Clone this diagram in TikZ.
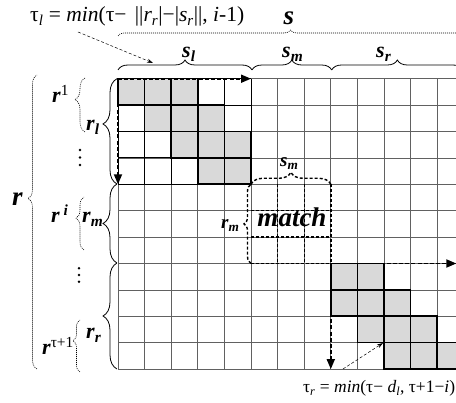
\documentclass[tikz,border=0pt]{standalone}
\usepackage{fontspec}
\setmainfont{Liberation Serif}
\usetikzlibrary{decorations.pathreplacing,arrows.meta}
\tikzset{
  gridline/.style={draw=black!62,line width=0.75pt},
  blockline/.style={draw=black,line width=0.8pt},
  graycell/.style={fill=black!15,draw=black,line width=1.6pt},
  dasharrow/.style={line width=1.8pt,dash pattern=on 4pt off 2.2pt,-{Triangle[length=10pt,width=8pt]}},
  matchline/.style={line width=1.4pt,dash pattern=on 3pt off 2pt},
  solidbrace/.style={decorate,line width=0.8pt},
  dotbrace/.style={decorate,line width=0.6pt,dash pattern=on 1pt off 1pt},
  annot/.style={line width=0.5pt,dash pattern=on 3pt off 2pt,-{Stealth[length=6pt,width=4pt]}},
  lbl/.style={font=\fontsize{22}{22}\selectfont\bfseries\itshape,inner sep=0pt},
  biglbl/.style={font=\fontsize{27}{27}\selectfont\bfseries\itshape,inner sep=0pt},
  smalllbl/.style={font=\fontsize{19}{19}\selectfont\bfseries\itshape,inner sep=0pt},
  formula/.style={font=\fontsize{#1}{#1}\selectfont,inner sep=0pt},
  dotmark/.style={fill=black}
}
\begin{document}
\begin{tikzpicture}[x=1pt,y=-1pt]
\useasboundingbox (0,0) rectangle (456,403);
\clip (0,0) rectangle (456,403);
% ---------- grid ----------
\begin{scope}[shift={(118,78.7)},x=26.6pt,y=-26.4pt]
  \coordinate (O) at (0,0);
  \coordinate (Lend) at (5,0);
  \coordinate (Dend) at (0,4);
  \coordinate (M) at (8,7);
  \coordinate (Rend) at (12.72,7);
  \coordinate (Bend) at (8,11);
  \foreach \r in {0,...,11} \draw[gridline] (0,\r) -- (13,\r);
  \foreach \c in {0,...,13} \draw[gridline] (\c,0) -- (\c,11);
  \foreach \r in {0,...,4} \draw[blockline] (0,\r) -- (5,\r);
  \foreach \c in {0,...,5} \draw[blockline] (\c,0) -- (\c,4);
  \foreach \c/\r in {0/0,1/0,2/0,1/1,2/1,3/1,2/2,3/2,4/2,3/3,4/3,
                     8/7,9/7,8/8,9/8,10/8,9/9,10/9,11/9,10/10,11/10,12/10}
    \filldraw[graycell] (\c,\r) rectangle ++(1,1);
  % match region
  \foreach \r in {5,6,7} \draw[matchline] (5,\r) -- (8,\r);
  \foreach \c in {6,7,8} \draw[matchline] (\c,4) -- (\c,7);
  \draw[matchline,decorate,decoration={brace,amplitude=12pt}] (5,4) -- (8,4);
  \draw[matchline,decorate,decoration={brace,amplitude=7pt}] (5,7) -- (5,4);
\end{scope}
% ---------- dashed arrows ----------
\draw[dasharrow] (O) -- (Lend);
\draw[dasharrow] (O) -- (Dend);
\draw[dasharrow] (M) -- (Rend);
\draw[dasharrow] (M) -- (Bend);
% ---------- top braces ----------
\draw[dotbrace,decoration={brace,amplitude=6pt}] (118,36) -- (463,36);
\draw[solidbrace,decoration={brace,amplitude=10pt}] (118,70) -- (252,70);
\draw[solidbrace,decoration={brace,amplitude=10pt}] (252,70) -- (331.7,70);
\draw[solidbrace,decoration={brace,amplitude=10pt}] (331.7,70) -- (463,70);
% ---------- left braces ----------
\draw[dotbrace,decoration={brace,amplitude=9pt,aspect=0.58}] (37,369) -- (37,75);
\draw[dotbrace,decoration={brace,amplitude=10pt,aspect=0.6}] (85,132) -- (85,78);
\draw[dotbrace,decoration={brace,amplitude=8pt,aspect=0.6}] (84,250) -- (84,197);
\draw[dotbrace,decoration={brace,amplitude=7pt,aspect=0.6}] (80,372) -- (80,320);
\draw[solidbrace,decoration={brace,amplitude=14pt,aspect=0.57}] (117,184) -- (117,78.7);
\draw[solidbrace,decoration={brace,amplitude=14pt}] (117,263) -- (117,184);
\draw[solidbrace,decoration={brace,amplitude=14pt}] (117,369) -- (117,263);
% ---------- vertical dots ----------
\foreach \y in {150,157.5,165} \fill[dotmark] (80,\y) circle (1.4);
\foreach \y in {268.3,275,281.7} \fill[dotmark] (79,\y) circle (1.4);
% ---------- labels ----------
\node[formula=21.5,anchor=base west] (taul) at (30,22) {τ\textsubscript{\textit{l}} = \textit{min}(τ−\hspace{3pt} ||\textit{r}\textsubscript{\textit{r}}|−|\textit{s}\textsubscript{\textit{r}}||, \textit{i}-1)};
\node[formula=17.5,anchor=base west] (taur) at (303,393) {τ\textsubscript{\textit{r}} = \textit{min}(τ− \textit{d}\textsubscript{\textit{l}}, τ+1−\textit{i})};
\node[biglbl,anchor=base] (s) at (289,25) {s};
\node[lbl,anchor=base west] (sl) at (182,58) {s\textsubscript{l}};
\node[lbl,anchor=base west] (sm) at (282,58) {s\textsubscript{m}};
\node[lbl,anchor=base west] (sr) at (376,58) {s\textsubscript{r}};
\node[biglbl,anchor=base west] (r) at (12,206) {r};
\node[lbl,anchor=base west] (r1) at (52,103) {r\textsuperscript{\normalfont 1}};
\node[lbl,anchor=base west] (rl) at (86,131) {r\textsubscript{l}};
\node[lbl,anchor=base west] (ri) at (51,223) {r\textsuperscript{ i}};
\node[lbl,anchor=base west] (rm) at (82,223) {r\textsubscript{m}};
\node[lbl,anchor=base west] (rt) at (42,355) {r\textsuperscript{\normalfont τ+1}};
\node[lbl,anchor=base west] (rr) at (86,339) {r\textsubscript{r}};
\node[smalllbl,anchor=base west] (smm) at (280,167) {s\textsubscript{m}};
\node[smalllbl,anchor=base west] (rmm) at (221,229) {r\textsubscript{m}};
\node[biglbl,anchor=base] (match) at (292,227) {match};
% ---------- annotation arrows ----------
\coordinate (taulA) at (78,32);
\coordinate (taulB) at (153,63);
\coordinate (taurA) at (343,369);
\coordinate (taurB) at (383,343);
\draw[annot] (taulA) -- (taulB);
\draw[annot] (taurA) -- (taurB);
\end{tikzpicture}
\end{document}
